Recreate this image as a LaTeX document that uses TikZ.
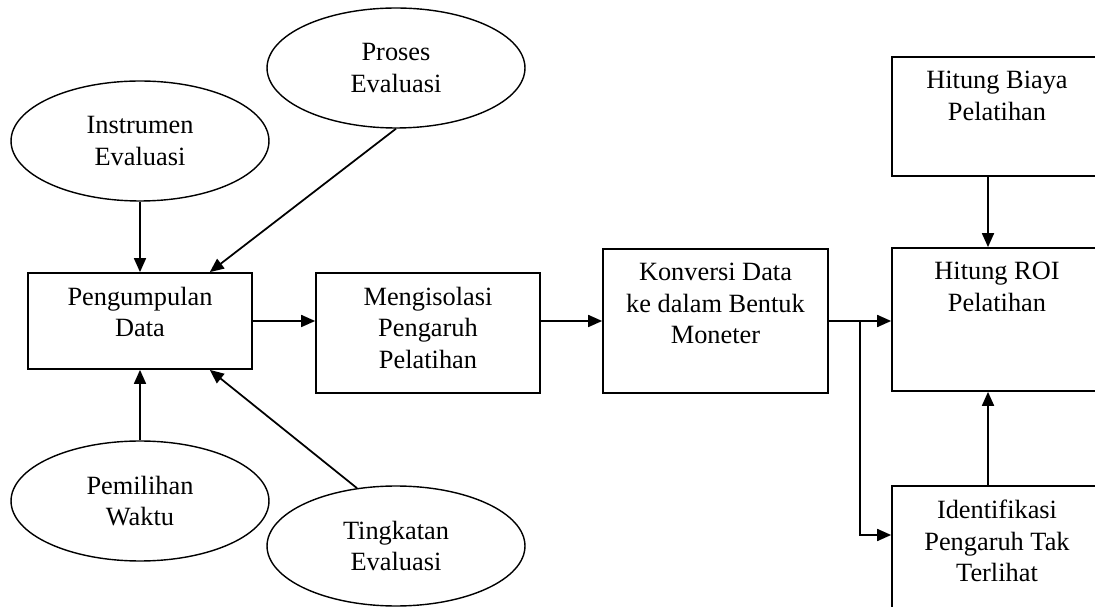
\documentclass[tikz,border=0pt]{standalone}
\usepackage{fontspec}
\setmainfont{Liberation Serif}
\usetikzlibrary{shapes.geometric,arrows.meta}

\begin{document}
\begin{tikzpicture}[x=0.02cm,y=-0.02cm,
    txt/.style={font=\fontsize{15}{18}\selectfont},
    oval/.style={draw,ellipse,line width=0.8pt,minimum width=5.16cm,minimum height=2.4cm,align=center,txt},
    box/.style={draw,line width=1pt,minimum width=4.5cm,inner sep=0pt},
    boxtext/.style={anchor=north,align=center,inner sep=0pt,yshift=-0.29cm,txt},
    arr/.style={-{Triangle[length=0.28cm,width=0.24cm]},line width=1pt}]
  \useasboundingbox (0,0) rectangle (1095,607);
  \clip (0,0) rectangle (1095,607);
  %% ellipses round the data collection
  \node[oval] (instrumen) at (140,141) {Instrumen\\Evaluasi};
  \node[oval] (proses) at (396,68) {Proses\\Evaluasi};
  \node[oval] (pemilihan) at (140,501) {Pemilihan\\Waktu};
  \node[oval] (tingkatan) at (396,546) {Tingkatan\\Evaluasi};
  %% process boxes
  \node[box,minimum width=4.48cm,minimum height=1.92cm,label={[boxtext]north:Pengumpulan\\Data}] (data) at (140,321) {};
  \node[box,minimum width=4.48cm,minimum height=2.4cm,label={[boxtext]north:Mengisolasi\\Pengaruh\\Pelatihan}] (isolasi) at (428,333) {};
  \node[box,minimum height=2.88cm,label={[boxtext]north:Konversi Data\\ke dalam Bentuk\\Moneter}] (konversi) at (715.5,321) {};
  % right column
  \node[box,minimum width=4.2cm,minimum height=2.38cm,label={[boxtext]north:Hitung Biaya\\Pelatihan}] (biaya) at (997,116.5) {};
  \node[box,minimum width=4.2cm,minimum height=2.86cm,label={[boxtext]north:Hitung ROI\\Pelatihan}] (roi) at (997,319.5) {};
  \node[box,minimum width=4.2cm,minimum height=2.86cm,label={[boxtext]north:Identifikasi\\Pengaruh Tak\\Terlihat}] (tak) at (997,557.5) {};
  %% connectors
  \draw[arr] (instrumen) -- (data);
  \draw[arr] (proses.south) -- (data.35);
  \draw[arr] (pemilihan) -- (data);
  \draw[arr] (tingkatan.124) -- (data.-35);
  \draw[arr] (data.east) -- (data.east -| isolasi.west);
  \draw[arr] (isolasi.east |- konversi.west) -- (konversi.west);
  \draw[arr] (konversi.east) -- (konversi.east -| roi.west);
  \coordinate (split) at (860,321);
  \draw[arr] (split) |- (tak.168);
  \draw[arr] ([xshift=-0.18cm]biaya.south) -- ([xshift=-0.18cm]roi.north);
  \draw[arr] ([xshift=-0.18cm]tak.north) -- ([xshift=-0.18cm]roi.south);
\end{tikzpicture}
\end{document}
